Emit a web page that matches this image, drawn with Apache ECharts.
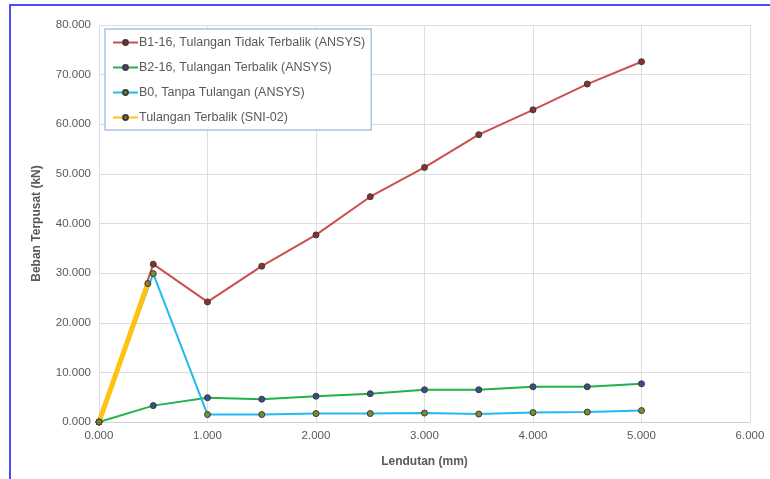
<!DOCTYPE html>
<html>
<head>
<meta charset="utf-8">
<script src="https://cdn.jsdelivr.net/npm/echarts@6/dist/echarts.min.js"></script>
<style>
html,body{margin:0;padding:0;background:#fff;}
#chart{width:770px;height:479px;}
</style>
</head>
<body>
<div id="chart"></div>
<script>
const seriesNames = [
  'B1-16, Tulangan Tidak Terbalik (ANSYS)',
  'B2-16, Tulangan Terbalik (ANSYS)',
  'B0, Tanpa Tulangan (ANSYS)',
  'Tulangan Terbalik (SNI-02)'
];
const deflection = [0, 0.5, 1.0, 1.5, 2.0, 2.5, 3.0, 3.5, 4.0, 4.5, 5.0];
const loadB1 = [0, 31.8, 24.2, 31.4, 37.7, 45.4, 51.3, 57.9, 62.9, 68.1, 72.6];
const loadB2 = [0, 3.3, 4.9, 4.6, 5.2, 5.7, 6.5, 6.5, 7.1, 7.1, 7.7];
const loadB0 = [0, 29.9, 1.5, 1.5, 1.7, 1.7, 1.8, 1.6, 1.9, 2.0, 2.3];
const sniDeflection = [0, 0.45];
const sniLoad = [0, 27.9];
const xTicks = [0, 1, 2, 3, 4, 5, 6];
const yTicks = [0, 10, 20, 30, 40, 50, 60, 70, 80];

const pairs = (xs, ys) => xs.map((x, i) => [x, ys[i]]);
const font = '"Liberation Sans", Arial, sans-serif';
const textGray = '#595959';

const chart = echarts.init(document.getElementById('chart'), null, {renderer: 'canvas'});

function mkSeries(name, data, lineColor, markerColor, width) {
  return {
    name: name,
    type: 'line',
    data: data,
    symbol: 'circle',
    symbolSize: 6,
    showSymbol: true,
    lineStyle: {color: lineColor, width: width},
    itemStyle: {color: markerColor, borderColor: '#3a3a3a', borderWidth: 1},
    emphasis: {disabled: true},
    animation: false
  };
}

chart.setOption({
  backgroundColor: '#ffffff',
  animation: false,
  grid: {left: 99, right: 20, top: 25, bottom: 57, containLabel: false},
  legend: {
    orient: 'vertical',
    left: 105,
    top: 29,
    padding: [7, 6, 6, 7],
    itemGap: 12,
    itemWidth: 25,
    itemHeight: 6,
    borderColor: '#a9c4e8',
    borderWidth: 1.5,
    backgroundColor: '#ffffff',
    textStyle: {color: textGray, fontSize: 12.5, fontFamily: font, padding: [0, 0, 0, -4]},
    data: seriesNames
  },
  xAxis: {
    type: 'value',
    min: 0, max: 6, interval: 1,
    name: 'Lendutan (mm)',
    nameLocation: 'middle',
    nameGap: 34,
    nameTextStyle: {color: textGray, fontSize: 12, fontWeight: 'bold', fontFamily: font},
    axisLine: {show: true, lineStyle: {color: '#d0d0d0', width: 1}},
    axisTick: {show: false},
    splitLine: {show: true, lineStyle: {color: '#dedede', width: 1}},
    axisLabel: {
      color: textGray, fontSize: 11.5, fontFamily: font, margin: 8,
      formatter: v => xTicks.includes(v) ? v.toFixed(3) : ''
    }
  },
  yAxis: {
    type: 'value',
    min: 0, max: 80, interval: 10,
    name: 'Beban Terpusat (kN)',
    nameLocation: 'middle',
    nameGap: 56,
    nameTextStyle: {color: textGray, fontSize: 12, fontWeight: 'bold', fontFamily: font},
    axisLine: {show: false},
    axisTick: {show: false},
    splitLine: {show: true, lineStyle: {color: '#dedede', width: 1}},
    axisLabel: {
      color: textGray, fontSize: 11.5, fontFamily: font, margin: 8,
      formatter: v => yTicks.includes(v) ? v.toFixed(3) : ''
    }
  },
  series: [
    mkSeries(seriesNames[0], pairs(deflection, loadB1), '#c9504f', '#8e2f2f', 2),
    mkSeries(seriesNames[1], pairs(deflection, loadB2), '#22b14c', '#35508f', 2),
    mkSeries(seriesNames[2], pairs(deflection, loadB0), '#24b8f2', '#7d8c33', 2),
    mkSeries(seriesNames[3], pairs(sniDeflection, sniLoad), '#ffc20e', '#8d7a2a', 5)
  ],
  graphic: [
    {type: 'line', shape: {x1: 10, y1: 5, x2: 10, y2: 479}, style: {stroke: '#4b4bff', lineWidth: 2}, silent: true},
    {type: 'line', shape: {x1: 9, y1: 5, x2: 770, y2: 5}, style: {stroke: '#4b4bff', lineWidth: 2}, silent: true}
  ]
});
</script>
</body>
</html>
